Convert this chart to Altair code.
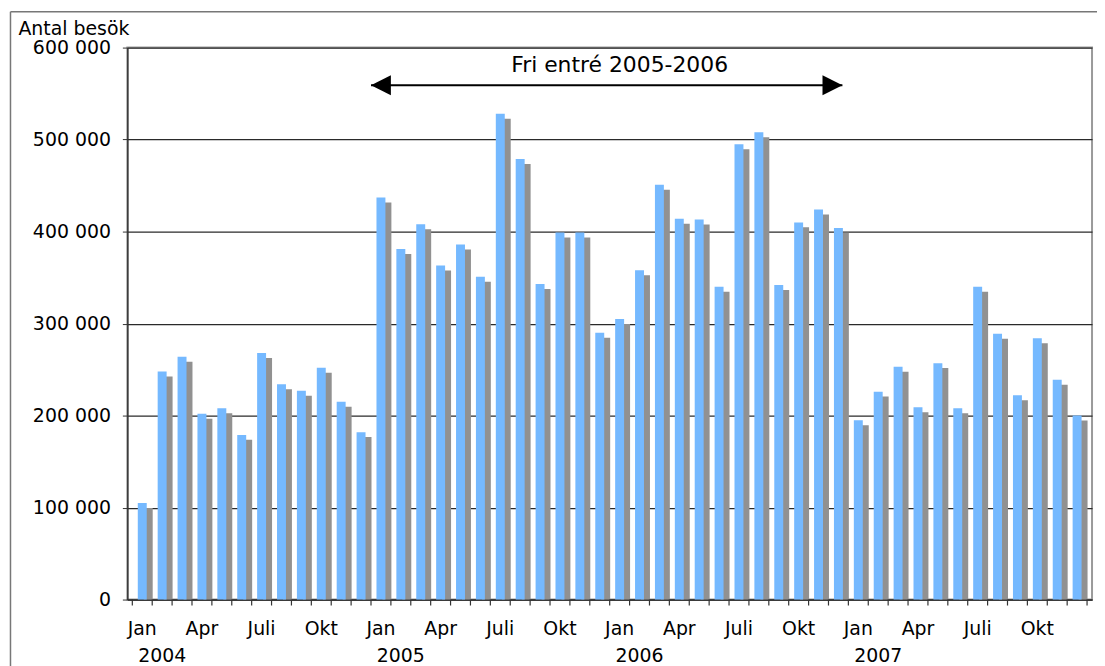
import altair as alt
import pandas as pd

years = ["2004", "2005", "2006", "2007"]
month_names = ["Jan", "Feb", "Mar", "Apr", "Maj", "Juni", "Juli", "Aug", "Sep", "Okt", "Nov", "Dec"]
labelled_months = ["Jan", "Apr", "Juli", "Okt"]
year_label_under = "Feb"

visits_2004 = [105000, 248000, 264000, 202000, 208000, 179000, 268000, 234000, 227000, 252000, 215000, 182000]
visits_2005 = [437000, 381000, 408000, 363000, 386000, 351000, 528000, 479000, 343000, 399000, 399000, 290000]
visits_2006 = [305000, 358000, 451000, 414000, 413000, 340000, 495000, 508000, 342000, 410000, 424000, 404000]
visits_2007 = [195000, 226000, 253000, 209000, 257000, 208000, 340000, 289000, 222000, 284000, 239000, 200000]

y_ticks = [0, 100000, 200000, 300000, 400000, 500000, 600000]
y_title = "Antal besök"

# annotation (months counted from Jan 2004 = 0)
arrow_text = "Fri entré 2005-2006"
arrow_start = 12.0
arrow_end = 35.7
arrow_text_pos = 24.5
arrow_level = 559000
arrow_text_level = 573000

n_months = len(years) * len(month_names)
values = visits_2004 + visits_2005 + visits_2006 + visits_2007
rows = []
for i, v in enumerate(values):
    rows.append({"pos": i + 0.5, "visits": v,
                 "mname": month_names[i % 12], "year": years[i // 12]})
df = pd.DataFrame(rows)
month_lbl = df[df["mname"].isin(labelled_months)]
year_lbl = df[df["mname"] == year_label_under]
bounds = pd.DataFrame({"pos": list(range(n_months + 1))})

x_scale = alt.Scale(domain=[0, n_months], nice=False, zero=False)
x_enc = alt.X(
    "pos:Q",
    scale=x_scale,
    axis=alt.Axis(
        title=None,
        labels=False,
        ticks=False,
        grid=False,
        domainColor="#333333",
        domainWidth=1.5,
    ),
)

y_enc = alt.Y(
    "visits:Q",
    scale=alt.Scale(domain=[0, 600000], nice=False),
    axis=alt.Axis(
        values=y_ticks,
        labelExpr="datum.value == 0 ? '0' : format(datum.value/1000,'d') + ' 000'",
        title=y_title,
        titleAngle=0,
        titleAlign="left",
        titleBaseline="alphabetic",
        titleX=-110,
        titleY=-13,
        titleFontSize=19,
        titleFontWeight="normal",
        tickSize=5,
        labelPadding=12,
        gridColor="#2a2a2a",
        gridWidth=1.2,
        domainColor="#333333",
        domainWidth=1.5,
        tickColor="#333333",
    ),
)

shadow = alt.Chart(df).mark_bar(color="#919191", width=9, xOffset=6, yOffset=5, clip=True).encode(
    x=x_enc, y=y_enc
)
bars = alt.Chart(df).mark_bar(color="#75B9FF", width=9).encode(x=x_enc, y=y_enc)

month_ticks = alt.Chart(bounds).mark_rule(color="#333333", strokeWidth=1.2).encode(
    x=alt.X("pos:Q"), y=alt.value(555), y2=alt.value(561)
)

month_text = alt.Chart(month_lbl).mark_text(fontSize=19, baseline="top", align="center", color="black").encode(
    x=alt.X("pos:Q"), y=alt.value(576), text="mname:N"
)
year_text = alt.Chart(year_lbl).mark_text(fontSize=19, baseline="top", align="center", color="black").encode(
    x=alt.X("pos:Q"), y=alt.value(603), text="year:N"
)

arrow_df = pd.DataFrame({"pos": [arrow_start], "pos2": [arrow_end], "visits": [arrow_level]})
arrow_line = alt.Chart(arrow_df).mark_rule(color="black", strokeWidth=2).encode(
    x=alt.X("pos:Q"), x2=alt.X2("pos2"), y=alt.Y("visits:Q")
)
head_df = pd.DataFrame({"pos": [arrow_start, arrow_end], "visits": [arrow_level, arrow_level], "dir": ["left", "right"]})
left_path = "M0,0L2,-1L2,1Z"
right_path = "M0,0L-2,-1L-2,1Z"
heads = alt.Chart(head_df).mark_point(filled=True, color="black", opacity=1, size=400, strokeWidth=0).encode(
    x=alt.X("pos:Q"),
    y=alt.Y("visits:Q"),
    shape=alt.Shape("dir:N", scale=alt.Scale(domain=["left", "right"], range=[left_path, right_path]), legend=None),
)
text_df = pd.DataFrame({"pos": [arrow_text_pos], "visits": [arrow_text_level], "label": [arrow_text]})
arrow_label = alt.Chart(text_df).mark_text(fontSize=22, baseline="alphabetic", align="center", color="black").encode(
    x=alt.X("pos:Q"), y=alt.Y("visits:Q"), text="label:N"
)

one = pd.DataFrame({"a": [0]})
frame_top = alt.Chart(one).mark_rule(color="#777777", strokeWidth=1.5).encode(
    x=alt.value(-117.5), x2=alt.value(1100), y=alt.value(-36)
)
frame_left = alt.Chart(one).mark_rule(color="#777777", strokeWidth=1.5).encode(
    x=alt.value(-117.5), y=alt.value(-36), y2=alt.value(700)
)

chart = alt.layer(
    shadow, bars, month_ticks, month_text, year_text, arrow_line, heads, arrow_label, frame_top, frame_left
).properties(
    width=970,
    height=555,
    autosize=alt.AutoSizeParams(type="none"),
    padding={"left": 120, "top": 38, "right": 5, "bottom": 65},
).configure(font="DejaVu Sans").configure_view(stroke="#9a9a9a", strokeWidth=2).configure_axis(
    labelFontSize=19, labelColor="black", titleColor="black", labelFont="DejaVu Sans", titleFont="DejaVu Sans"
)

chart.save("out.html", embed_options={"renderer": "svg", "actions": False})
